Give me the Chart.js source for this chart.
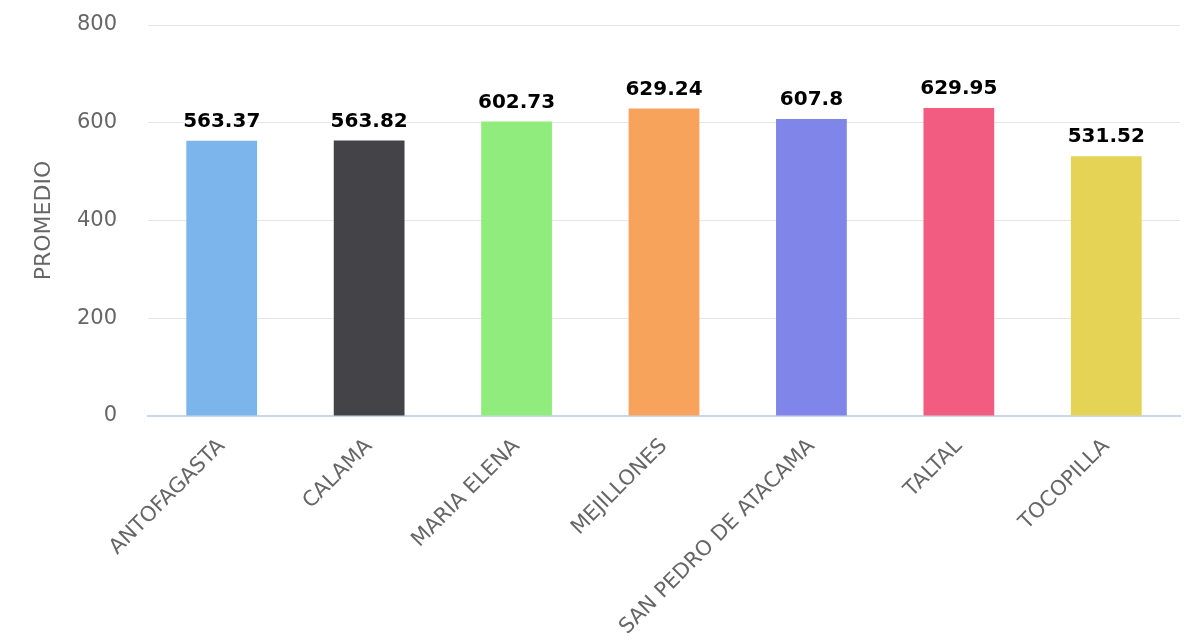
<!DOCTYPE html>
<html>
<head>
<meta charset="utf-8">
<script src="https://cdn.jsdelivr.net/npm/chart.js@4/dist/chart.umd.min.js"></script>
<style>
  html, body { margin: 0; padding: 0; background: #fff; }
  #wrap { width: 1200px; height: 640px; }
</style>
</head>
<body>
<div id="wrap"><canvas id="barChart" width="1200" height="640"></canvas></div>
<script>
const comunas = ['ANTOFAGASTA', 'CALAMA', 'MARIA ELENA', 'MEJILLONES', 'SAN PEDRO DE ATACAMA', 'TALTAL', 'TOCOPILLA'];
const promedios = [563.37, 563.82, 602.73, 629.24, 607.8, 629.95, 531.52];
const colores = ['#7cb5ec', '#434348', '#90ed7d', '#f7a35c', '#8085e9', '#f15c80', '#e4d354'];
const yTicks = [0, 200, 400, 600, 800];

// etiquetas de valor encima de cada barra
const valueLabels = {
    id: 'valueLabels',
    afterDatasetsDraw(chart) {
        const ctx = chart.ctx;
        const meta = chart.getDatasetMeta(0);
        ctx.save();
        ctx.font = 'bold 20px "DejaVu Sans"';
        ctx.textAlign = 'center';
        ctx.textBaseline = 'bottom';
        ctx.lineJoin = 'round';
        meta.data.forEach((bar, i) => {
            const txt = String(promedios[i]);
            ctx.strokeStyle = '#ffffff';
            ctx.lineWidth = 3;
            ctx.strokeText(txt, bar.x, bar.y - 9);
            ctx.fillStyle = '#000000';
            ctx.fillText(txt, bar.x, bar.y - 9);
        });
        ctx.restore();
    }
};

const ctx = document.getElementById('barChart').getContext('2d');
new Chart(ctx, {
    type: 'bar',
    data: {
        labels: comunas,
        datasets: [{
            data: promedios,
            backgroundColor: colores,
            borderWidth: 0,
            barPercentage: 0.8,
            categoryPercentage: 0.6
        }]
    },
    options: {
        responsive: false,
        animation: false,
        layout: { padding: { top: 25, right: 20, left: 31, bottom: 0 } },
        plugins: {
            legend: { display: false },
            tooltip: { enabled: false }
        },
        scales: {
            x: {
                grid: { display: false, drawTicks: false },
                border: { color: '#ccd6eb', width: 2 },
                ticks: {
                    color: '#666666',
                    font: { family: '"DejaVu Sans"', size: 21 },
                    minRotation: 45,
                    maxRotation: 45,
                    padding: 18,
                    autoSkip: false
                },
                afterFit(scale) { scale.height = 224; }
            },
            y: {
                min: 0,
                max: 800,
                afterBuildTicks(scale) { scale.ticks = yTicks.map(v => ({ value: v })); },
                grid: { color: '#e6e6e6', lineWidth: 1, drawTicks: false },
                border: { display: false },
                ticks: {
                    color: '#666666',
                    font: { family: '"DejaVu Sans"', size: 21 },
                    padding: 31
                },
                title: {
                    display: true,
                    text: 'PROMEDIO',
                    color: '#666666',
                    font: { family: '"DejaVu Sans"', size: 22 },
                    padding: 0
                },
                afterFit(scale) {
                    scale.width = 117;
                    scale.paddingTop = 0;
                    scale.paddingBottom = 0;
                }
            }
        }
    },
    plugins: [valueLabels]
});
</script>
</body>
</html>
